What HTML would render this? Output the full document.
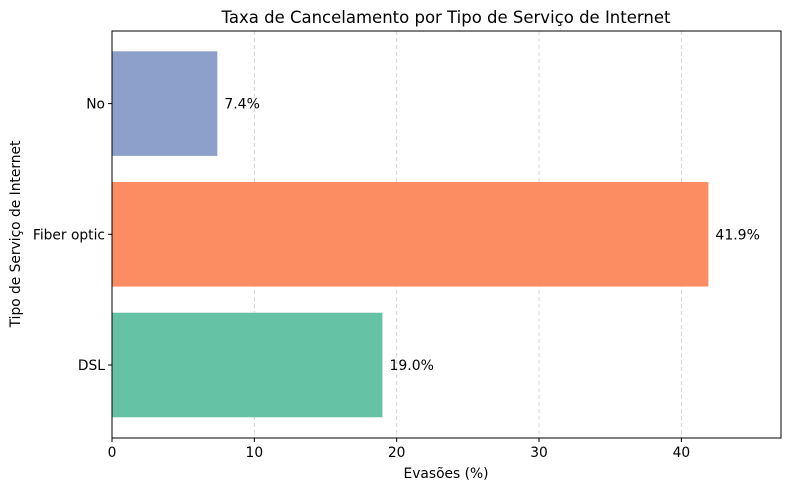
<!DOCTYPE html>
<html><head><meta charset="utf-8"><style>
body{margin:0;background:#fff;}
svg{font-family:"DejaVu Sans","Liberation Sans",sans-serif;}
</style></head><body>
<svg id="chart" width="790" height="490">
<text x="446" y="23" font-size="16.5" text-anchor="middle">Taxa de Cancelamento por Tipo de Serviço de Internet</text>
<g id="grid"></g><g id="bars"></g><g id="axes"></g>
<text x="446" y="478" font-size="13.8" text-anchor="middle">Evasões (%)</text>
<text x="20" y="234" font-size="13.8" text-anchor="middle" transform="rotate(-90 20 234)">Tipo de Serviço de Internet</text>
</svg>
<script>
const categories = ["DSL","Fiber optic","No"];
const values = [19.0,41.9,7.4];
const labels = ["19.0%","41.9%","7.4%"];
const colors = ["#66c2a5","#fc8d62","#8da0cb"];
const xTicks = [0,10,20,30,40];
const L=112,R=781,T=31,B=438,xMax=47.0;
const ns="http://www.w3.org/2000/svg";
const xs=v=>L+v/xMax*(R-L);
const step=130.7;
const ys=i=>365-i*step;
function mk(t,a,p){const e=document.createElementNS(ns,t);for(const k in a)e.setAttribute(k,a[k]);p.appendChild(e);return e;}
const grid=document.getElementById('grid'),bars=document.getElementById('bars'),axes=document.getElementById('axes');
xTicks.forEach(t=>{
  const g=mk('line',{x1:xs(t),x2:xs(t),y1:T,y2:B,stroke:'#ccc','stroke-dasharray':'4,3','stroke-width':0.8},grid);
  
  
  const tk=mk('line',{x1:xs(t),x2:xs(t),y1:B,y2:B+4,stroke:'#000'},axes);
  
  
  const tl=mk('text',{x:xs(t),y:B+19,'font-size':13.8,'text-anchor':'middle'},axes);tl.textContent=t;
  
  
});
categories.forEach((c,i)=>{
  const h=step*0.8,y=ys(i);
  const r=mk('rect',{x:xs(0),y:y-h/2,width:xs(values[i])-xs(0),height:h,fill:colors[i]},bars);
  
  
  const vl=mk('text',{x:xs(values[i])+7,y:y+5,'font-size':14},bars);vl.textContent=labels[i];
  
  
  const tk=mk('line',{x1:L-4,x2:L,y1:y,y2:y,stroke:'#000'},axes);
  
  
  const tl=mk('text',{x:L-7,y:y+5,'font-size':13.8,'text-anchor':'end'},axes);tl.textContent=c;
  
  
});
const fr=mk('rect',{x:L,y:T,width:R-L,height:B-T,fill:'none',stroke:'#000','stroke-width':1},axes);


</script>
</body></html>
